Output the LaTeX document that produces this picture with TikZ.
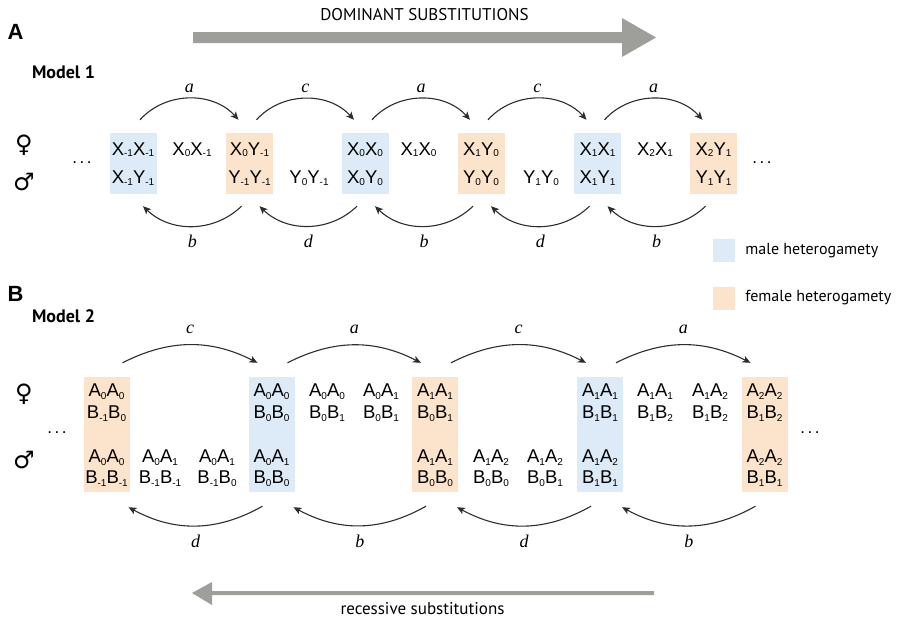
\documentclass[tikz,border=0pt]{standalone}
\usepackage{fontspec}
\setmainfont{Liberation Sans}
\newfontfamily\capfont{PT Sans}
\newfontfamily\labfont{Liberation Serif}
\newfontfamily\symfont{DejaVu Sans}
\usetikzlibrary{positioning,arrows.meta}
\definecolor{hetblue}{RGB}{221,235,248}
\definecolor{hetorange}{RGB}{252,228,204}
\definecolor{subgray}{RGB}{158,159,155}
\definecolor{trgray}{RGB}{45,45,45}
\tikzset{
  hetbox/.style={fill=#1,minimum width=47pt,minimum height=61pt,inner sep=0pt},
  hetboxB/.style={fill=#1,minimum width=46pt,minimum height=115pt,inner sep=0pt},
  keybox/.style={fill=#1,minimum width=22pt,minimum height=23pt,inner sep=0pt},
  gtxt/.style={font=\fontsize{18.5}{18.5}\selectfont,inner sep=0pt,anchor=base},
  trans/.style={draw=trgray,line width=1.1pt,-{Stealth[length=8pt,width=7pt,inset=2pt]}},
  ratelab/.style={font=\labfont\itshape\fontsize{18}{18}\selectfont,inner sep=0pt},
  capt/.style={font=\capfont\fontsize{17}{17}\selectfont,inner sep=0pt},
  legtxt/.style={font=\capfont\fontsize{16}{16}\selectfont,inner sep=0pt},
  modlab/.style={font=\capfont\bfseries\fontsize{18}{18}\selectfont,inner sep=0pt},
  panlab/.style={font=\bfseries\fontsize{22}{22}\selectfont,inner sep=0pt},
  sexsym/.style={font=\symfont\fontsize{24}{24}\selectfont,inner sep=0pt},
  dotlab/.style={font=\fontsize{17}{17}\selectfont,inner sep=0pt},
}
\newcommand{\subfont}{\fontsize{10}{10}\selectfont}
\newcommand{\lsa}[1]{\raisebox{-1.5pt}{\subfont#1}}
\newcommand{\lsb}[1]{\raisebox{-3pt}{\subfont#1}}
\newcommand{\moredots}{.\hspace{2.5pt}.\hspace{2.5pt}.}
% model 1: one genotype per row
\newcommand{\fA}[3]{\node[gtxt] (#1) at (#2,-155) {#3};}
\newcommand{\mA}[3]{\node[gtxt] (#1) at (#2,-183.5) {#3};}
% model 2: two loci per row
\newcommand{\fB}[4]{%
  \node[gtxt] (#1u) at (#2,-396) {#3};
  \node[gtxt] (#1l) at (#2,-418) {#4};}
\newcommand{\mB}[4]{%
  \node[gtxt] (#1u) at (#2,-462) {#3};
  \node[gtxt] (#1l) at (#2,-483) {#4};}

\begin{document}
\begin{tikzpicture}[x=1pt,y=1pt]
  \useasboundingbox (0,0) rectangle (900,-621);
  % panel A
  \node[panlab] (labA) at (15.5,-32) {A};
  \node[modlab] (mod1) at (63.5,-72) {Model 1};
  \fill[subgray] (193,-32) -- (622,-32) -- (622,-18) -- (656,-37.5)
        -- (622,-57) -- (622,-43) -- (193,-43) -- cycle;
  \node[capt] (dom) at (424.5,-15) {DOMINANT SUBSTITUTIONS};
  \node[sexsym] (femA) at (24,-145) {♀};
  \node[sexsym] (malA) at (24,-182) {♂};
  \node[dotlab] (dotAl) at (82,-163) {\moredots};
  \node[dotlab] (dotAr) at (762,-163) {\moredots};
  \node[hetbox=hetblue] (A1) at (133,-163.5) {};
  \node[hetbox=hetorange] (A2) at (249.5,-163.5) {};
  \node[hetbox=hetblue] (A3) at (365,-163.5) {};
  \node[hetbox=hetorange] (A4) at (481,-163.5) {};
  \node[hetbox=hetblue] (A5) at (597.5,-163.5) {};
  \node[hetbox=hetorange] (A6) at (713.5,-163.5) {};
  \fA{g1f}{133}{X\lsa{-1}X\lsa{-1}}\mA{g1m}{133}{X\lsa{-1}Y\lsa{-1}}
  \fA{h1f}{192}{X\lsa{0}X\lsa{-1}}
  \fA{g2f}{249.5}{X\lsa{0}Y\lsa{-1}}\mA{g2m}{249.5}{Y\lsa{-1}Y\lsa{-1}}
  \mA{h2m}{309}{Y\lsa{0}Y\lsa{-1}}
  \fA{g3f}{365}{X\lsa{0}X\lsa{0}}\mA{g3m}{365}{X\lsa{0}Y\lsa{0}}
  \fA{h3f}{418.5}{X\lsa{1}X\lsa{0}}
  \fA{g4f}{481}{X\lsa{1}Y\lsa{0}}\mA{g4m}{481}{Y\lsa{0}Y\lsa{0}}
  \mA{h4m}{541}{Y\lsa{1}Y\lsa{0}}
  \fA{g5f}{597.5}{X\lsa{1}X\lsa{1}}\mA{g5m}{597.5}{X\lsa{1}Y\lsa{1}}
  \fA{h5f}{655}{X\lsa{2}X\lsa{1}}
  \fA{g6f}{713.5}{X\lsa{2}Y\lsa{1}}\mA{g6m}{713.5}{Y\lsa{1}Y\lsa{1}}
  \foreach \i/\j/\r/\s in {1/2/a/b,2/3/c/d,3/4/a/b,4/5/c/d,5/6/a/b}{
    \draw[trans] ([shift={(7,13)}]A\i.north) to[bend left=48]
      node[ratelab,above=5pt]{\r} ([shift={(-11,13)}]A\j.north);
    \draw[trans] ([shift={(-8,-12)}]A\j.south) to[bend left=44]
      node[ratelab,below=8pt]{\s} ([shift={(10,-12)}]A\i.south);
  }
  % legend
  \node[keybox=hetblue] (keyM) at (724,-250.5) {};
  \node[legtxt,right=10pt of keyM] (keyMt) {male heterogamety};
  \node[keybox=hetorange] (keyF) at (724,-298) {};
  \node[legtxt,right=10pt of keyF] (keyFt) {female heterogamety};
  % panel B
  \node[panlab] (labB) at (15.5,-294) {B};
  \node[modlab] (mod2) at (63.5,-316) {Model 2};
  \node[sexsym] (femB) at (24,-394) {♀};
  \node[sexsym] (malB) at (24,-460) {♂};
  \node[dotlab] (dotBl) at (57,-433) {\moredots};
  \node[dotlab] (dotBr) at (810,-433) {\moredots};
  \node[hetboxB=hetorange] (B1) at (106.5,-434.5) {};
  \node[hetboxB=hetblue] (B2) at (271.5,-434.5) {};
  \node[hetboxB=hetorange] (B3) at (435,-434.5) {};
  \node[hetboxB=hetblue] (B4) at (600,-434.5) {};
  \node[hetboxB=hetorange] (B5) at (764.5,-434.5) {};
  \fB{k1f}{106.5}{A\lsb{0}A\lsb{0}}{B\lsb{-1}B\lsb{0}}
  \mB{k1m}{106.5}{A\lsb{0}A\lsb{0}}{B\lsb{-1}B\lsb{-1}}
  \mB{n1m}{160}{A\lsb{0}A\lsb{1}}{B\lsb{-1}B\lsb{-1}}
  \mB{n2m}{217}{A\lsb{0}A\lsb{1}}{B\lsb{-1}B\lsb{0}}
  \fB{k2f}{271.5}{A\lsb{0}A\lsb{0}}{B\lsb{0}B\lsb{0}}
  \mB{k2m}{271.5}{A\lsb{0}A\lsb{1}}{B\lsb{0}B\lsb{0}}
  \fB{n3f}{327}{A\lsb{0}A\lsb{0}}{B\lsb{0}B\lsb{1}}
  \fB{n4f}{381}{A\lsb{0}A\lsb{1}}{B\lsb{0}B\lsb{1}}
  \fB{k3f}{435}{A\lsb{1}A\lsb{1}}{B\lsb{0}B\lsb{1}}
  \mB{k3m}{435}{A\lsb{1}A\lsb{1}}{B\lsb{0}B\lsb{0}}
  \mB{n5m}{491}{A\lsb{1}A\lsb{2}}{B\lsb{0}B\lsb{0}}
  \mB{n6m}{545}{A\lsb{1}A\lsb{2}}{B\lsb{0}B\lsb{1}}
  \fB{k4f}{600}{A\lsb{1}A\lsb{1}}{B\lsb{1}B\lsb{1}}
  \mB{k4m}{600}{A\lsb{1}A\lsb{2}}{B\lsb{1}B\lsb{1}}
  \fB{n7f}{655}{A\lsb{1}A\lsb{1}}{B\lsb{1}B\lsb{2}}
  \fB{n8f}{710}{A\lsb{1}A\lsb{2}}{B\lsb{1}B\lsb{2}}
  \fB{k5f}{764.5}{A\lsb{2}A\lsb{2}}{B\lsb{1}B\lsb{2}}
  \mB{k5m}{764.5}{A\lsb{2}A\lsb{2}}{B\lsb{1}B\lsb{1}}
  \foreach \i/\j/\r/\s in {1/2/c/d,2/3/a/b,3/4/c/d,4/5/a/b}{
    \draw[trans] ([shift={(16,14)}]B\i.north) to[bend left=27]
      node[ratelab,above=11pt]{\r} ([shift={(-14,14)}]B\j.north);
    \draw[trans] ([shift={(-9,-14)}]B\j.south) to[bend left=29]
      node[ratelab,below=9pt]{\s} ([shift={(22,-15)}]B\i.south);
  }
  \fill[subgray] (192,-593) -- (212,-582) -- (212,-591) -- (654,-591)
        -- (654,-595) -- (212,-595) -- (212,-605) -- cycle;
  \node[capt] (rec) at (422.5,-609) {recessive substitutions};
\end{tikzpicture}
\end{document}
